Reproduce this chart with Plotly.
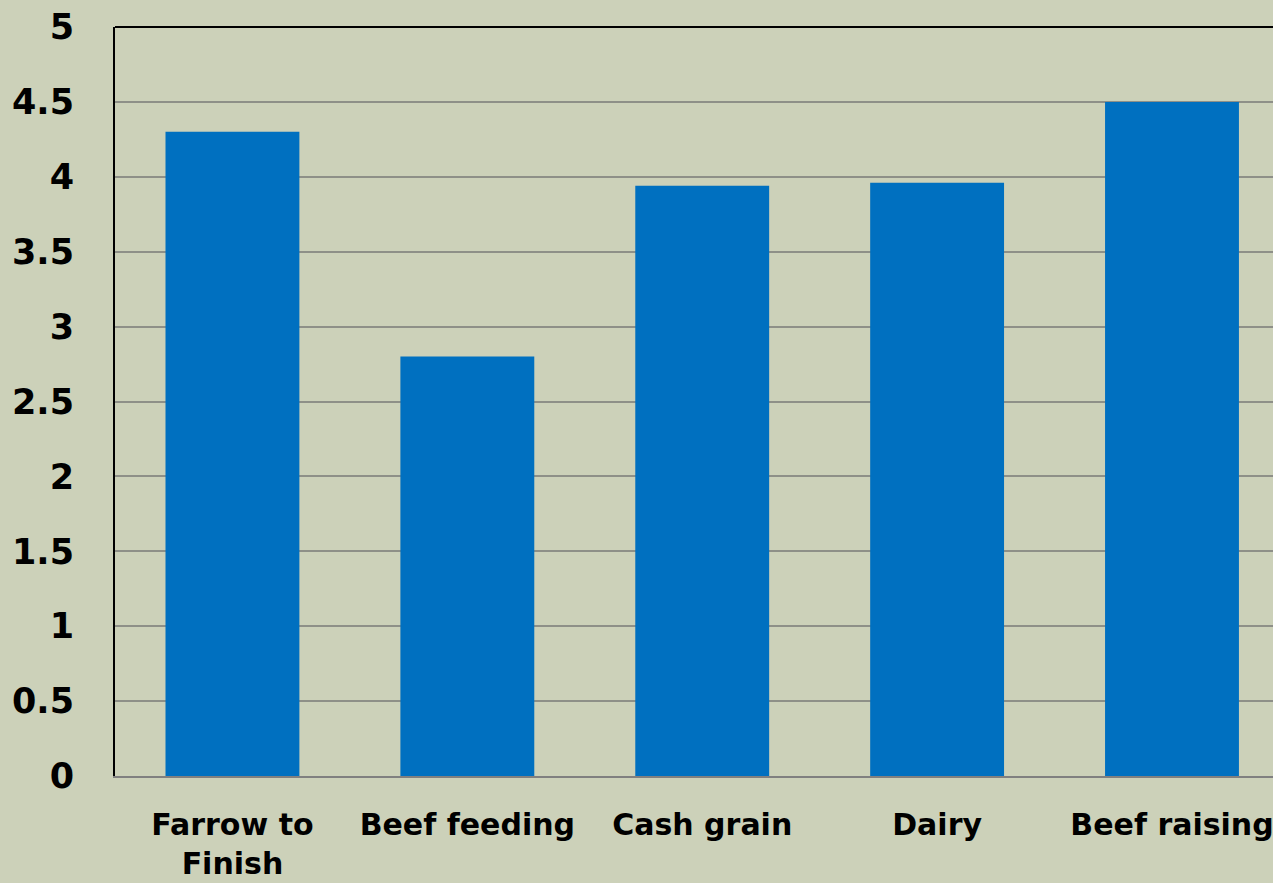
import plotly.graph_objects as go

categories = ["Farrow to<br>Finish", "Beef feeding", "Cash grain", "Dairy", "Beef raising"]
values = [4.3, 2.8, 3.94, 3.96, 4.5]
y_ticks = [0, 0.5, 1, 1.5, 2, 2.5, 3, 3.5, 4, 4.5, 5]
y_tick_labels = ["0", "0.5", "1", "1.5", "2", "2.5", "3", "3.5", "4", "4.5", "5"]

BG = "#CCD1B9"
FONT = "DejaVu Sans"

fig = go.Figure(go.Bar(x=list(range(len(categories))), y=values, marker=dict(color="#0070C0", line=dict(width=0))))

fig.update_layout(
    width=1273, height=883,
    paper_bgcolor=BG, plot_bgcolor=BG,
    margin=dict(l=115, r=0, t=27, b=107, autoexpand=False),
    bargap=0.43,
    showlegend=False,
    xaxis=dict(
        range=[-0.5, 4.43],
        tickmode="array", tickvals=list(range(len(categories))), ticktext=categories,
        tickfont=dict(family=FONT, size=30, color="black", weight="bold"),
        showline=True, linecolor="#808080", linewidth=2,
        showgrid=False, zeroline=False, ticks="",
        ticklabelstandoff=21,
        ticklabeloverflow="allow",
        automargin=False,
    ),
    yaxis=dict(
        range=[0, 5],
        tickmode="array", tickvals=y_ticks, ticktext=y_tick_labels,
        tickfont=dict(family=FONT, size=35, color="black", weight="bold"),
        showline=True, linecolor="black", linewidth=2,
        showgrid=True, gridcolor="#8E9088", gridwidth=2,
        zeroline=False, ticks="",
        ticklabelstandoff=32,
        automargin=False,
    ),
    shapes=[dict(type="line", xref="paper", yref="paper", x0=0, x1=1, y0=1, y1=1,
                 line=dict(color="black", width=2))],
)

fig.write_html("out.html")
